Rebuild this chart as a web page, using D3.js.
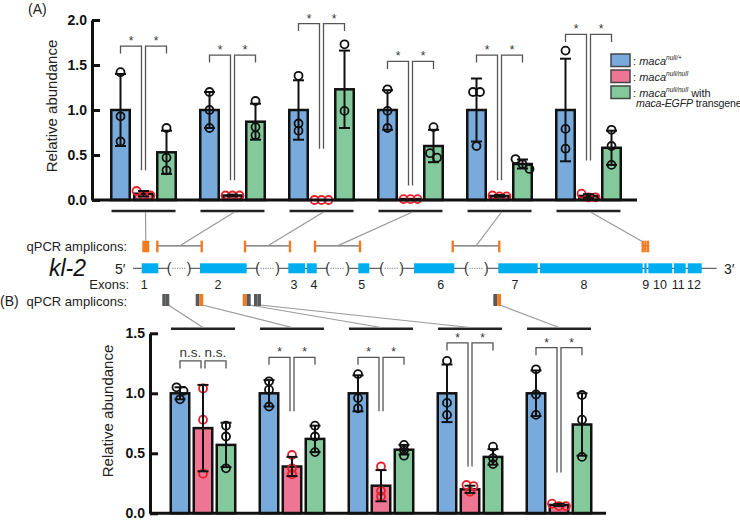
<!DOCTYPE html>
<html><head><meta charset="utf-8">
<script src="https://cdn.jsdelivr.net/npm/d3@7"></script>
<style>body{margin:0;background:#fff}svg{display:block}</style>
</head><body><svg id="c" width="740" height="524"></svg>
<script>
// ---------------- DATA ----------------
const genotypes = ["null/+", "null/null", "rescue"];

// Panel A (amplicons 1-6)
const groupsA = ["A1", "A2", "A3", "A4", "A5", "A6"];
const hetA_pts = [[1.42,0.93,0.65],[1.20,1.00,0.80],[1.38,0.85,0.77],[1.23,0.99,0.80],[1.20,1.20,0.60],[1.66,0.79,0.57]];
const hetA_mean = [1.00,1.00,1.00,1.00,1.00,1.00];
const hetA_sd = [0.40,0.20,0.33,0.22,0.35,0.57];
const nullA_pts = [[0.05,0.10,0.05],[0.05,0.05,0.05],[0.00,0.00,0.00],[0.01,0.01,0.01],[0.04,0.05,0.04],[0.03,0.07,0.03]];
const nullA_mean = [0.07,0.05,0.00,0.01,0.045,0.045];
const nullA_sd = [0.03,0.01,0.00,0.00,0.01,0.02];
const resA_pts = [[0.80,0.47,0.33],[1.10,0.81,0.72],[1.73,0.99],[0.81,0.52,0.47],[0.455,0.40,0.345],[0.78,0.60,0.39]];
const resA_mean = [0.53,0.87,1.23,0.60,0.40,0.58];
const resA_sd = [0.24,0.20,0.43,0.18,0.05,0.19];
const sigA_label = ["*","*","*","*","*","*"];
const sigA_top = [1.71,1.61,1.96,1.54,1.61,1.84];
const sigA_inner = [0.33,0.22,0.57,0.16,0.22,0.44];
const ticksA = [0, 0.5, 1.0, 1.5, 2.0];

// Panel B (amplicons B1-B5)
const groupsB = ["B1", "B2", "B3", "B4", "B5"];
const hetB_pts = [[1.05,1.02,0.95],[1.10,1.03,0.89],[1.16,0.96,0.875],[1.27,0.92,0.82],[1.20,0.99,0.82]];
const hetB_mean = [1.00,1.00,1.00,1.00,1.00];
const hetB_sd = [0.05,0.11,0.15,0.24,0.19];
const nullB_pts = [[1.04,0.78,0.33],[0.486,0.375,0.325],[0.39,0.186,0.14],[0.236,0.227,0.18],[0.06,0.08,0.06]];
const nullB_mean = [0.71,0.39,0.23,0.20,0.07];
const nullB_sd = [0.36,0.08,0.13,0.03,0.01];
const resB_pts = [[0.73,0.64,0.375],[0.73,0.64,0.51],[0.57,0.525,0.48],[0.555,0.46,0.41],[0.986,0.78,0.47]];
const resB_mean = [0.57,0.62,0.53,0.47,0.74];
const resB_sd = [0.185,0.11,0.04,0.065,0.26];
const sigB_label = ["n.s.","*","*","*","*"];
const sigB_top = [1.27,1.30,1.30,1.42,1.38];
const sigB_inner = [null,0.85,0.85,0.39,0.34];
const ticksB = [0, 0.5, 1.0, 1.5];

// Gene model of kl-2 (gene coordinate units)
const exonNames = ["1","2","3","4","5","6","7","8","9","10","11","12"];
const exonStart = [8.7,67,155.3,173.7,225.3,281,365.3,407,511.3,515.3,541,554.7];
const exonEnd   = [25.3,113.7,172,183.7,236.3,321.3,404.7,509.7,513.7,539.3,552.7,568.7];
const exonLabelAt = [11.3,85,161,181,228.7,307.7,382,451,512.7,527,545.3,561];
const geneLength = 583.7;
const gapAfterExon = [0,1,3,4,5]; // index of exon preceding an omitted intron region
// qPCR amplicons used in (A)
const ampAStart = [9.3,24.3,112,182,319.7,509.7];
const ampAEnd   = [16.3,68.7,157,227,366.3,515];
const ampAKind  = ["box","span","span","span","span","multi"];
// qPCR amplicons used in (B)
const ampBStart = [29.3,62.7,109.7,121,360.3];
const ampBEnd   = [36.3,70.3,117.7,128,368];
const ampBLeft  = ["gray","gray","orange","gray","gray"];
const ampBRight = ["gray","orange","gray","gray","orange"];

// ---------------- DRAW ----------------
const FONT = '"Liberation Sans", Arial, Helvetica, sans-serif';
const svg = d3.select("#c").style("font-family", FONT);
const fillC = {"null/+":"#78aadc","null/null":"#ef7594","rescue":"#84c99b"};
const ptC = {"null/+":"#111","null/null":"#e8202a","rescue":"#111"};
const ORANGE = "#f47a20", GRAYBOX = "#58595b", EXON = "#00aeef";

function jitter(vals, y) {
  const idx = vals.map((v,i)=>i).sort((a,b)=>vals[b]-vals[a]);
  const offs = vals.map(()=>0);
  const clusters = []; let cur = [idx[0]];
  for (let k=1;k<idx.length;k++){
    if (Math.abs(y(vals[idx[k]]) - y(vals[cur[cur.length-1]])) < 5) cur.push(idx[k]);
    else { clusters.push(cur); cur=[idx[k]]; }
  }
  clusters.push(cur);
  clusters.forEach(c=>c.forEach((i,j)=>offs[i]=(j-(c.length-1)/2)*7));
  return offs;
}

function panel(o) {
  const g = svg.append("g");
  const sub = d3.scaleBand().domain(genotypes).range([-34.5,34.5]).paddingInner(0.196).paddingOuter(0.098);
  const y = o.y, x = o.x;
  const series = [
    {k:"null/+", m:o.het[0], s:o.het[1], p:o.het[2]},
    {k:"null/null", m:o.nul[0], s:o.nul[1], p:o.nul[2]},
    {k:"rescue", m:o.res[0], s:o.res[1], p:o.res[2]}
  ];
  const bw = sub.bandwidth();
  o.groups.forEach((gname, gi) => {
    const cx = x(gname);
    series.forEach(se => {
      const bx = cx + sub(se.k);
      const mid = bx + bw/2;
      const v = se.m[gi];
      g.append("rect").attr("x", bx).attr("y", y(v)).attr("width", bw)
        .attr("height", Math.max(0, y(0)-y(v)))
        .attr("fill", fillC[se.k]).attr("stroke", "#111").attr("stroke-width", 2.5);
      const pts = se.p[gi];
      const off = jitter(pts, y);
      pts.forEach((pv, pi) => {
        g.append("circle").attr("cx", mid + off[pi]).attr("cy", y(pv)).attr("r", 4)
          .attr("fill", "none").attr("stroke", ptC[se.k]).attr("stroke-width", 1.8);
      });
      const sd = se.s[gi];
      if (sd > 0) {
        const lo = Math.max(0, v - sd), hi = v + sd;
        g.append("line").attr("x1", mid).attr("x2", mid).attr("y1", y(lo)).attr("y2", y(hi))
          .attr("stroke", "#111").attr("stroke-width", 2);
        [lo, hi].forEach(t => g.append("line").attr("x1", mid-5.5).attr("x2", mid+5.5)
          .attr("y1", y(t)).attr("y2", y(t)).attr("stroke", "#111").attr("stroke-width", 2));
      }
    });
    // significance brackets
    const bC = cx + sub("null/+") + bw/2, rC = cx + sub("null/null") + bw/2, gC = cx + sub("rescue") + bw/2;
    const top = y(o.sigTop[gi]);
    const inner = o.sigInner[gi] == null ? top + 7.5 : y(o.sigInner[gi]);
    const br = g.append("g").attr("fill","none").attr("stroke","#555").attr("stroke-width",1.3);
    br.append("path").attr("d", `M${bC},${top+7.5}V${top}H${rC-2}V${inner}`);
    br.append("path").attr("d", `M${rC+2},${inner}V${top}H${gC}V${top+7.5}`);
    const lab = o.sigLabel[gi];
    [(bC+rC-2)/2, (rC+2+gC)/2].forEach(lx => {
      g.append("text").attr("x", lx).attr("y", lab === "*" ? top - 1 : top - 4)
        .attr("text-anchor","middle").attr("font-size", lab === "*" ? 12 : 13.5)
        .attr("fill", "#333").text(lab);
    });
  });
  // x axis line
  g.append("line").attr("x1", o.axX).attr("x2", o.xEnd).attr("y1", y(0)).attr("y2", y(0))
    .attr("stroke","#111").attr("stroke-width",3);
  // y axis
  const ax = g.append("g").attr("transform", `translate(${o.axX},0)`)
    .call(d3.axisLeft(y).tickValues(o.ticks).tickFormat(d3.format(".1f")).tickSizeInner(-8).tickSizeOuter(0).tickPadding(5));
  ax.select(".domain").attr("stroke","#111").attr("stroke-width",3);
  ax.selectAll(".tick line").attr("stroke","#111").attr("stroke-width",3);
  ax.selectAll(".tick text").attr("font-family", FONT).attr("font-size", 14).attr("font-weight","bold").attr("fill","#111");
  g.append("text").attr("transform", `translate(${o.labX},${o.labY}) rotate(-90)`)
    .attr("text-anchor","middle").attr("font-size",15).attr("fill","#222").text("Relative abundance");
  // amplicon group lines
  o.groups.forEach(gname => {
    g.append("line").attr("x1", x(gname)-32).attr("x2", x(gname)+32)
      .attr("y1", o.lineY).attr("y2", o.lineY).attr("stroke","#222").attr("stroke-width",2.5);
  });
}

const yA = d3.scaleLinear().domain([0,2]).range([200,20]);
const xA = d3.scalePoint().domain(groupsA).range([143.5, 143.5 + 89*5]);
panel({groups:groupsA, x:xA, y:yA, het:[hetA_mean,hetA_sd,hetA_pts], nul:[nullA_mean,nullA_sd,nullA_pts],
  res:[resA_mean,resA_sd,resA_pts], sigTop:sigA_top, sigInner:sigA_inner, sigLabel:sigA_label, ticks:ticksA,
  axX:92, xEnd:637, labX:57, labY:106, lineY:211});

const yB = d3.scaleLinear().domain([0,1.5]).range([513.3,333.3]);
const xB = d3.scalePoint().domain(groupsB).range([203, 203 + 89*4]);
panel({groups:groupsB, x:xB, y:yB, het:[hetB_mean,hetB_sd,hetB_pts], nul:[nullB_mean,nullB_sd,nullB_pts],
  res:[resB_mean,resB_sd,resB_pts], sigTop:sigB_top, sigInner:sigB_inner, sigLabel:sigB_label, ticks:ticksB,
  axX:150, xEnd:606, labX:113, labY:411, lineY:328.7});

// ---------------- gene model ----------------
const gx = d3.scaleLinear().domain([0, geneLength]).range([133, 716.7]);
const gm = svg.append("g");
const GY = 268.3;
// backbone with omitted introns
const gaps = gapAfterExon.map(i => { const m = (exonEnd[i] + exonStart[i+1]) / 2; return [m-10, m+10]; });
let segStart = 0;
gaps.forEach(([a,b]) => {
  gm.append("line").attr("x1", gx(segStart)).attr("x2", gx(a)).attr("y1", GY).attr("y2", GY).attr("stroke","#666").attr("stroke-width",1.2);
  gm.append("line").attr("x1", gx(a)+3).attr("x2", gx(b)-3).attr("y1", GY).attr("y2", GY).attr("stroke","#777").attr("stroke-width",1).attr("stroke-dasharray","1.2,1.2");
  [["(",a],[")",b]].forEach(([t,p]) => gm.append("text").attr("x", gx(p)).attr("y", GY+4.5).attr("text-anchor","middle")
    .attr("font-size",14).attr("fill","#333").text(t));
  segStart = b;
});
gm.append("line").attr("x1", gx(segStart)).attr("x2", gx(geneLength)).attr("y1", GY).attr("y2", GY).attr("stroke","#666").attr("stroke-width",1.2);
exonNames.forEach((n,i) => {
  gm.append("rect").attr("x", gx(exonStart[i])).attr("y", GY-5).attr("width", gx(exonEnd[i])-gx(exonStart[i])).attr("height", 10).attr("fill", EXON);
  gm.append("text").attr("x", gx(exonLabelAt[i])).attr("y", 288.5).attr("text-anchor","middle")
    .attr("font-size",12.5).attr("fill","#222").text(n);
});
gm.append("text").attr("x",129).attr("y",288.5).attr("text-anchor","end").attr("font-size",13).attr("fill","#222").text("Exons:");
gm.append("text").attr("x",115).attr("y",273.5).attr("font-size",14).attr("fill","#222").text("5\u2032");
gm.append("text").attr("x",724).attr("y",273.5).attr("font-size",14).attr("fill","#222").text("3\u2032");
gm.append("text").attr("x",49).attr("y",276).attr("font-size",23).attr("font-style","italic").attr("fill","#111").text("kl-2");
gm.append("text").attr("x",127).attr("y",251).attr("text-anchor","end").attr("font-size",13).attr("fill","#222").text("qPCR amplicons:");
gm.append("text").attr("x",127).attr("y",306).attr("text-anchor","end").attr("font-size",13).attr("fill","#222").text("qPCR amplicons:");
svg.append("text").attr("x",28).attr("y",14).attr("font-size",14).attr("fill","#222").text("(A)");
svg.append("text").attr("x",0).attr("y",306).attr("font-size",14).attr("fill","#222").text("(B)");

// amplicons (A)
const AT = 240.7, AH = 11.6, AM = 245.9;
groupsA.forEach((gname, i) => {
  const s = gx(ampAStart[i]), e = gx(ampAEnd[i]);
  let ax, ay;
  if (ampAKind[i] === "box") {
    gm.append("rect").attr("x", s).attr("y", AT).attr("width", e-s).attr("height", AH).attr("fill", ORANGE);
    ax = (s+e)/2; ay = AT;
  } else {
    gm.append("line").attr("x1", s).attr("x2", e).attr("y1", AM).attr("y2", AM).attr("stroke","#666").attr("stroke-width",1.3);
    const ticks = ampAKind[i] === "multi" ? [s, (s+e)/2, e] : [s, e];
    ticks.forEach(t => gm.append("rect").attr("x", t-1.2).attr("y", AT).attr("width", 2.4).attr("height", AH).attr("fill", ORANGE));
    if (ampAKind[i] === "multi") { ax = s; ay = AT+1; } else { ax = (s+e)/2; ay = AM; }
  }
  gm.append("line").attr("x1", xA(gname)+2).attr("y1", 212).attr("x2", ax).attr("y2", ay)
    .attr("stroke","#999").attr("stroke-width",1.2);
});
// amplicons (B)
const BT = 294, BH = 12;
const bCol = {gray: GRAYBOX, orange: ORANGE};
groupsB.forEach((gname, i) => {
  const s = gx(ampBStart[i]), e = gx(ampBEnd[i]), m = (s+e)/2;
  gm.append("line").attr("x1", e-1).attr("y1", BT+BH-1).attr("x2", xB(gname)).attr("y2", 327.5)
    .attr("stroke","#999").attr("stroke-width",1.2);
  gm.append("rect").attr("x", s).attr("y", BT).attr("width", m-s).attr("height", BH).attr("fill", bCol[ampBLeft[i]]);
  gm.append("rect").attr("x", m).attr("y", BT).attr("width", e-m).attr("height", BH).attr("fill", bCol[ampBRight[i]]);
});

// ---------------- legend ----------------
const lg = svg.append("g");
const legY = [54, 70, 86];
genotypes.forEach((k,i) => {
  lg.append("rect").attr("x",611).attr("y",legY[i]).attr("width",19).attr("height",12.5)
    .attr("fill", fillC[k]).attr("stroke","#444").attr("stroke-width",1.5);
});
function legText(yy, sup, tail) {
  const t = lg.append("text").attr("x",633).attr("y",yy).attr("font-size",11).attr("fill","#222");
  t.append("tspan").text(": ");
  t.append("tspan").attr("font-style","italic").text("maca");
  t.append("tspan").attr("font-size",6.5).attr("font-style","italic").attr("dy",-4.5).text(sup);
  if (tail) t.append("tspan").attr("dy",4.5).text(" " + tail);
}
legText(64.5, "null/+");
legText(80.5, "null/null");
legText(96.5, "null/null", "with");
const t4 = lg.append("text").attr("x",636).attr("y",107).attr("font-size",10.6).attr("letter-spacing",-0.15).attr("fill","#222");
t4.append("tspan").attr("font-style","italic").text("maca-EGFP");
t4.append("tspan").text(" transgene");
</script></body></html>
